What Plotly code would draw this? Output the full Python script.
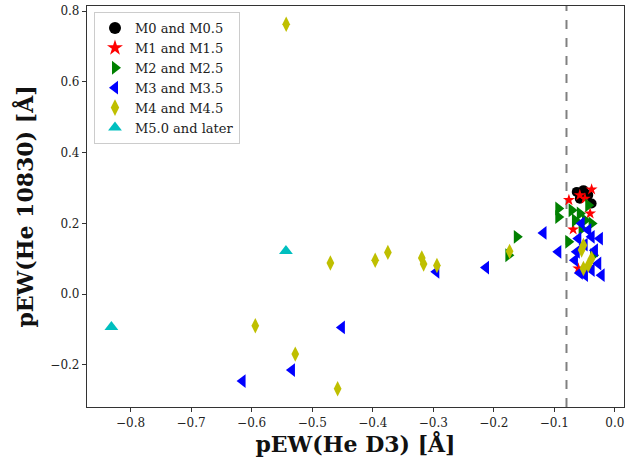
import plotly.graph_objects as go

# ---- data (pEW He D3, pEW He 10830) ----
m0_x = [-0.063, -0.052, -0.044, -0.0385, -0.058]
m0_y = [0.289, 0.294, 0.280, 0.256, 0.270]

m1_x = [-0.0385, -0.076, -0.058, -0.041, -0.069, -0.0605, -0.0495]
m1_y = [0.296, 0.266, 0.280, 0.228, 0.183, 0.0725, 0.270]

m2_x = [-0.162, -0.176, -0.0935, -0.0935, -0.0715, -0.058, -0.044, -0.066,
        -0.0495, -0.0385, -0.077, -0.036, -0.055]
m2_y = [0.162, 0.110, 0.242, 0.218, 0.237, 0.228, 0.251, 0.209,
        0.209, 0.200, 0.148, 0.110, 0.185]

m3_x = [-0.295, -0.451, -0.5335, -0.615, -0.118, -0.213, -0.0935, -0.0248,
        -0.022, -0.055, -0.044, -0.0605, -0.0385, -0.063, -0.033, -0.066,
        -0.0275, -0.0495, -0.0385, -0.050, -0.058]
m3_y = [0.063, -0.094, -0.2147, -0.2458, 0.173, 0.075, 0.1195, 0.157,
        0.0537, 0.200, 0.181, 0.157, 0.162, 0.1195, 0.124, 0.096,
        0.0867, 0.0537, 0.068, 0.140, 0.060]

m4_x = [-0.543, -0.470, -0.396, -0.375, -0.319, -0.316, -0.294, -0.174,
        -0.594, -0.528, -0.458, -0.052, -0.0385, -0.052, -0.044, -0.055]
m4_y = [0.763, 0.088, 0.096, 0.118, 0.1025, 0.085, 0.081, 0.121,
        -0.0895, -0.1695, -0.2675, 0.138, 0.101, 0.0725, 0.082, 0.125]

m5_x = [-0.5434, -0.8317]
m5_y = [0.122, -0.093]

threshold_x = -0.08

x_ticks = [-0.8, -0.7, -0.6, -0.5, -0.4, -0.3, -0.2, -0.1, 0.0]
y_ticks = [-0.2, 0.0, 0.2, 0.4, 0.6, 0.8]

series = [
    ("M0 and M0.5", m0_x, m0_y, "black", "circle", 10),
    ("M1 and M1.5", m1_x, m1_y, "red", "star", 9),
    ("M2 and M2.5", m2_x, m2_y, "green", "triangle-right", 12),
    ("M3 and M3.5", m3_x, m3_y, "blue", "triangle-left", 12),
    ("M4 and M4.5", m4_x, m4_y, "#bfbf00", "diamond-tall", 11),
    ("M5.0 and later", m5_x, m5_y, "#00bfbf", "triangle-up", 12),
]

fig = go.Figure()
for name, xs, ys, col, sym, sz in series:
    fig.add_trace(go.Scatter(
        x=xs, y=ys, mode="markers", name=name,
        marker=dict(color=col, symbol=sym, size=sz, line=dict(width=0)),
    ))

fig.add_shape(type="line", xref="x", yref="paper",
              x0=threshold_x, x1=threshold_x, y0=0, y1=1,
              line=dict(color="#808080", width=2, dash="dash"), layer="below")

axis_common = dict(
    showgrid=False, zeroline=False, showline=True, mirror=True,
    linecolor="#333333", linewidth=1.2, ticks="outside", ticklen=4,
    tickwidth=1, tickcolor="#333333",
    tickfont=dict(family="DejaVu Serif", size=12, color="#222222"),
)

fig.update_layout(
    width=626, height=468,
    margin=dict(l=87, r=2, t=6, b=61),
    paper_bgcolor="white", plot_bgcolor="white",
    font=dict(family="DejaVu Serif", color="#222222"),
    xaxis=dict(range=[-0.872, 0.015], tickvals=x_ticks, tickformat=".1f",
               title=dict(text="<b>pEW(He D3) [Å]</b>", standoff=8,
                          font=dict(family="DejaVu Serif", size=22, color="#111111")),
               **axis_common),
    yaxis=dict(range=[-0.319, 0.8145], tickvals=y_ticks, tickformat=".1f",
               title=dict(text="<b>pEW(He 10830) [Å]</b>", standoff=10,
                          font=dict(family="DejaVu Serif", size=22, color="#111111")),
               **axis_common),
    legend=dict(x=0.013, y=0.985, xanchor="left", yanchor="top",
                bgcolor="rgba(255,255,255,0.9)", bordercolor="#cccccc",
                borderwidth=1, font=dict(family="DejaVu Serif", size=13, color="#222222"),
                itemsizing="constant"),
    showlegend=True,
)

fig.write_html("out.html")
